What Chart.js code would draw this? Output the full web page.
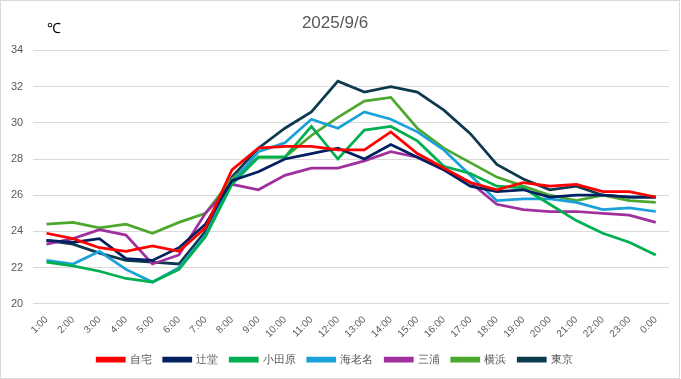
<!DOCTYPE html>
<html>
<head>
<meta charset="utf-8">
<script src="https://cdn.jsdelivr.net/npm/chart.js@4"></script>
<style>
  html, body { margin: 0; padding: 0; background: #fff; }
  #wrap { width: 678px; height: 377px; border: 1px solid #d9d9d9; position: relative; }
</style>
</head>
<body>
<div id="wrap"><canvas id="tempChart"></canvas></div>
<script>
const hours = ['1:00', '2:00', '3:00', '4:00', '5:00', '6:00', '7:00', '8:00', '9:00', '10:00', '11:00', '12:00',
    '13:00', '14:00', '15:00', '16:00', '17:00', '18:00', '19:00', '20:00', '21:00', '22:00', '23:00', '0:00'];

const jitaku   = [23.9, 23.6, 23.1, 22.9, 23.2, 22.9, 24.2, 27.4, 28.6, 28.7, 28.7, 28.5, 28.5, 29.5, 28.3, 27.5, 26.7, 26.3, 26.7, 26.5, 26.6, 26.2, 26.2, 25.9];
const tsujido  = [23.5, 23.4, 23.6, 22.5, 22.4, 23.1, 24.4, 26.8, 27.3, 28.0, 28.3, 28.6, 28.0, 28.8, 28.1, 27.4, 26.5, 26.2, 26.3, 25.9, 26.0, 26.0, 25.9, 25.9];
const odawara  = [22.3, 22.1, 21.8, 21.4, 21.2, 21.9, 23.7, 26.6, 28.1, 28.1, 29.8, 28.0, 29.6, 29.8, 29.0, 27.6, 27.2, 26.5, 26.4, 25.5, 24.6, 23.9, 23.4, 22.7];
const ebina    = [22.4, 22.2, 22.9, 21.9, 21.2, 22.0, 23.8, 26.7, 28.4, 28.9, 30.2, 29.7, 30.6, 30.2, 29.5, 28.5, 27.1, 25.7, 25.8, 25.8, 25.6, 25.2, 25.3, 25.1];
const miura    = [23.3, 23.6, 24.1, 23.8, 22.2, 22.7, 25.0, 26.6, 26.3, 27.1, 27.5, 27.5, 27.9, 28.4, 28.1, 27.4, 26.7, 25.5, 25.2, 25.1, 25.1, 25.0, 24.9, 24.5];
const yokohama = [24.4, 24.5, 24.2, 24.4, 23.9, 24.5, 25.0, 26.9, 28.1, 28.1, 29.3, 30.3, 31.2, 31.4, 29.7, 28.6, 27.8, 27.0, 26.5, 26.0, 25.7, 26.0, 25.7, 25.6];
const tokyo    = [23.5, 23.3, 22.8, 22.4, 22.3, 22.2, 24.0, 27.0, 28.6, 29.7, 30.6, 32.3, 31.7, 32.0, 31.7, 30.7, 29.4, 27.7, 26.9, 26.3, 26.5, 26.0, 25.9, 25.9];

const yTicks = [20, 22, 24, 26, 28, 30, 32, 34];

const series = [
    ['自宅', jitaku, '#ff0000'],
    ['辻堂', tsujido, '#002060'],
    ['小田原', odawara, '#00b050'],
    ['海老名', ebina, '#1ba1da'],
    ['三浦', miura, '#a0309e'],
    ['横浜', yokohama, '#4ea72e'],
    ['東京', tokyo, '#0e3a4f']
];

// "℃" unit label above the y axis
const unitLabel = {
    id: 'unitLabel',
    afterDraw(chart) {
        const c = chart.ctx;
        c.save();
        c.font = '14px "Liberation Sans", Arial, sans-serif';
        c.fillStyle = '#000';
        c.textAlign = 'center';
        c.textBaseline = 'middle';
        c.fillText('℃', 53, 28);
        c.restore();
    }
};

const gray = '#595959';
const font = '"Liberation Sans", Arial, sans-serif';

new Chart(document.getElementById('tempChart'), {
    type: 'line',
    data: {
        labels: hours,
        datasets: series.map(([name, values, color]) => ({
            label: name,
            data: values,
            borderColor: color,
            backgroundColor: color,
            borderWidth: 2.75,
            pointRadius: 0,
            tension: 0,
            fill: false
        }))
    },
    options: {
        responsive: true,
        maintainAspectRatio: false,
        animation: false,
        layout: { padding: { left: 0, right: 10, top: 8, bottom: 3 } },
        plugins: {
            title: {
                display: true,
                text: '2025/9/6',
                color: gray,
                font: { family: font, size: 17, weight: 'normal' },
                padding: { top: 4, bottom: 17 }
            },
            legend: {
                position: 'bottom',
                labels: {
                    color: gray,
                    font: { family: font, size: 11 },
                    boxWidth: 27,
                    boxHeight: 3,
                    padding: 12
                }
            },
            tooltip: { enabled: false }
        },
        scales: {
            x: {
                offset: true,
                grid: { display: false },
                border: { display: false },
                ticks: {
                    color: gray,
                    font: { family: font, size: 10 },
                    maxRotation: 45,
                    minRotation: 45,
                    autoSkip: false,
                    padding: 2
                }
            },
            y: {
                min: 20,
                max: 34,
                afterBuildTicks: axis => { axis.ticks = yTicks.map(v => ({ value: v })); },
                grid: { color: '#d9d9d9', drawTicks: false },
                border: { display: false },
                ticks: {
                    color: gray,
                    font: { family: font, size: 11 },
                    padding: 10
                }
            }
        }
    },
    plugins: [unitLabel]
});
</script>
</body>
</html>
